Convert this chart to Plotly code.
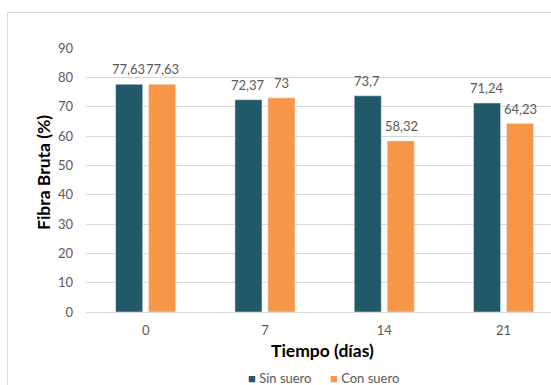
import plotly.graph_objects as go

categories = ["0", "7", "14", "21"]
sin_suero = [77.63, 72.37, 73.7, 71.24]
con_suero = [77.63, 73, 58.32, 64.23]
series_names = ["Sin suero", "Con suero"]
y_ticks = [0, 10, 20, 30, 40, 50, 60, 70, 80, 90]

TEAL = "#215968"
ORANGE = "#F79646"
GREY = "#595959"
GRID = "#D9D9D9"
FONT = "Lato"

W, H = 551, 385
L, R, T, B = 86, 0, 48, 73
plot_w = W - L - R
plot_h = H - T - B
cat_px = 119.3


def fmt(v):
    return f"{v:g}".replace(".", ",")


def px_to_paper_x(px):
    return (px - L) / plot_w


def px_to_paper_y(py):
    return (H - B - py) / plot_h


fig = go.Figure()
fig.add_trace(go.Bar(x=categories, y=sin_suero, name=series_names[0],
                     marker=dict(color=TEAL), showlegend=False))
fig.add_trace(go.Bar(x=categories, y=con_suero, name=series_names[1],
                     marker=dict(color=ORANGE), showlegend=False))

annotations = []
for vals, shift in ((sin_suero, -17), (con_suero, 17)):
    for i, v in enumerate(vals):
        annotations.append(dict(x=i, y=v, xref="x", yref="y", text=fmt(v),
                                showarrow=False, xshift=shift, yshift=15,
                                yanchor="middle", xanchor="center",
                                font=dict(family=FONT, size=13, color=GREY)))

# axis titles
annotations.append(dict(x=px_to_paper_x(322), y=px_to_paper_y(350), xref="paper", yref="paper",
                        text="<b>Tiempo (días)</b>", showarrow=False,
                        xanchor="center", yanchor="middle",
                        font=dict(family=FONT, size=17.5, color="#000000")))
annotations.append(dict(x=px_to_paper_x(43), y=px_to_paper_y(173), xref="paper", yref="paper",
                        text="<b>Fibra Bruta (%)</b>", showarrow=False, textangle=-90,
                        xanchor="center", yanchor="middle",
                        font=dict(family=FONT, size=17.5, color="#000000")))

# legend
for name, col, xpx in ((series_names[0], TEAL, 246), (series_names[1], ORANGE, 328)):
    annotations.append(dict(x=px_to_paper_x(xpx), y=px_to_paper_y(377.5), xref="paper", yref="paper",
                            text=f"<span style='color:{col}'>■</span> {name}", showarrow=False,
                            xanchor="left", yanchor="middle",
                            font=dict(family=FONT, size=13, color=GREY)))

x_range = [-0.5, -0.5 + plot_w / cat_px]

fig.update_layout(
    width=W, height=H,
    margin=dict(l=L, r=R, t=T, b=B, pad=0),
    paper_bgcolor="white", plot_bgcolor="white",
    barmode="group", bargap=0.447, bargroupgap=0.18,
    showlegend=False,
    font=dict(family=FONT, size=13, color=GREY),
    annotations=annotations,
    shapes=[dict(type="rect", xref="paper", yref="paper",
                 x0=px_to_paper_x(7.5), x1=1.2, y0=-0.6, y1=px_to_paper_y(12.5),
                 line=dict(color=GRID, width=1), fillcolor="rgba(0,0,0,0)", layer="below")],
    xaxis=dict(type="category", range=x_range, showgrid=False, showline=False,
               zeroline=False, ticks="", ticklabelstandoff=9,
               tickfont=dict(family=FONT, size=13, color=GREY)),
    yaxis=dict(range=[0, 90], tickvals=y_ticks, showgrid=True, gridcolor=GRID,
               gridwidth=1, zeroline=True, zerolinecolor=GRID, zerolinewidth=1,
               showline=False, ticks="", ticklabelstandoff=12,
               tickfont=dict(family=FONT, size=13, color=GREY)),
)

fig.write_html("out.html", config={"displayModeBar": False},
               post_script="document.body.style.margin='0';document.body.style.overflow='hidden';")
